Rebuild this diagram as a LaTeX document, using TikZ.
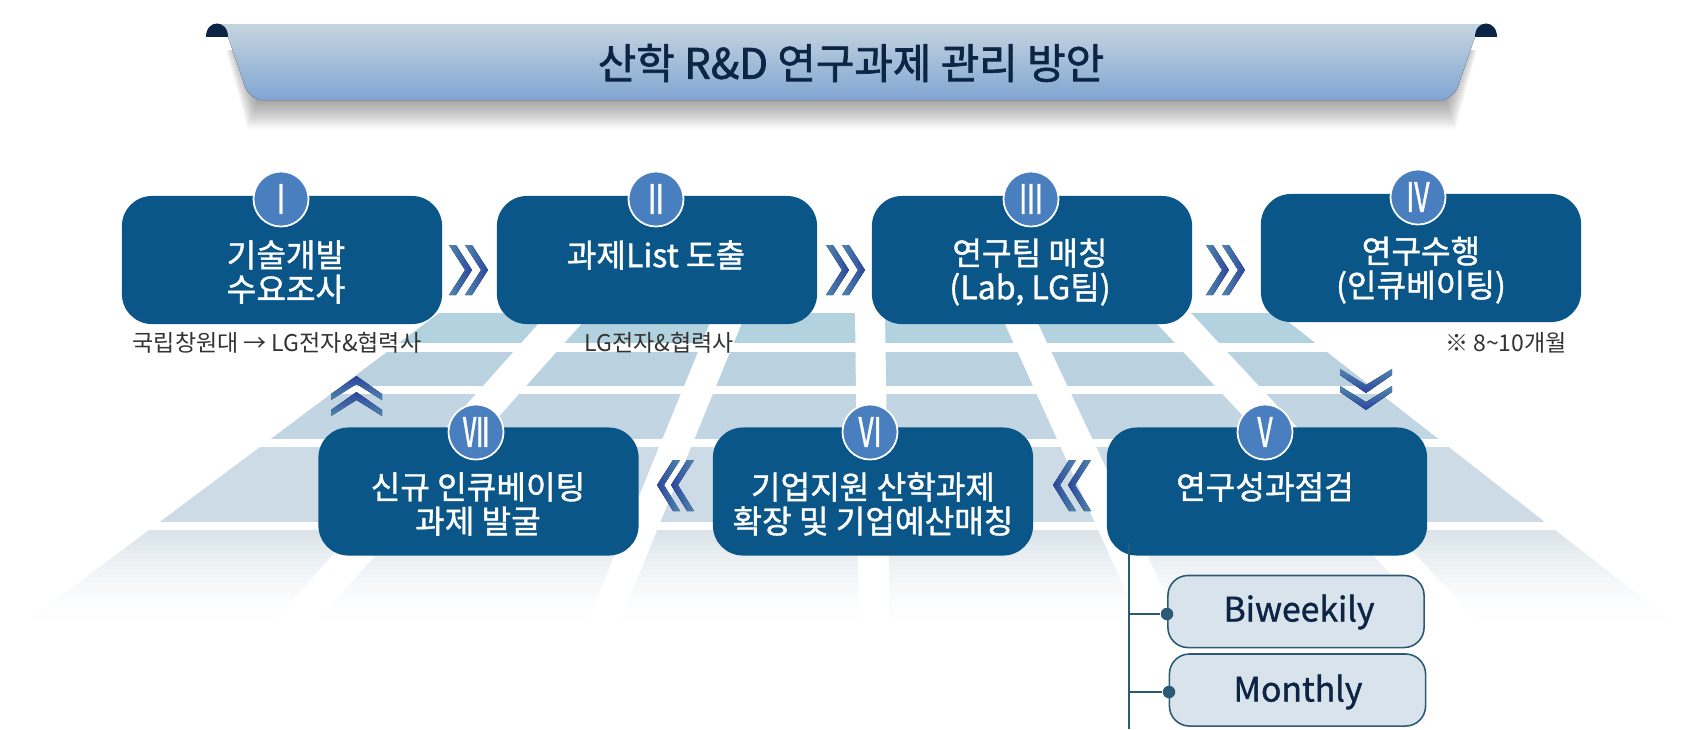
\documentclass[tikz,border=0pt]{standalone}
\usepackage{graphicx}
\usepackage{fontspec}
\setmainfont{Noto Sans CJK KR}
\newfontfamily\krmid[FakeBold=1.2]{Noto Sans CJK KR}
\newfontfamily\krtitle[FakeBold=1.6]{Noto Sans CJK KR}
\usepackage{xcolor}
\definecolor{boxblue}{HTML}{0B5688}
\definecolor{badgeblue}{HTML}{4A7FBF}
\definecolor{navy}{HTML}{0C2545}
\definecolor{subfill}{HTML}{D9E3EC}
\definecolor{subline}{HTML}{2A5A75}
\definecolor{chevtip}{HTML}{2B45A0}
\definecolor{chevmid}{HTML}{1A5590}
\definecolor{chevend}{HTML}{4F86AE}
\definecolor{rowa}{HTML}{B3D2DF}
\definecolor{rowb}{HTML}{BAD2E0}
\definecolor{rowc}{HTML}{C1D5E3}
\definecolor{rowd}{HTML}{CCDBE5}
\definecolor{rowe}{HTML}{DAE3E9}
\newcommand{\romnum}[1]{\scalebox{0.65}[1]{#1}}
\tikzset{
  taskbox/.style={fill=boxblue,rounded corners=0.3cm,minimum width=3.2cm,minimum height=1.28cm,inner sep=0pt},
  tasktext/.style={text=white,align=center,font=\krmid\fontsize{9.15}{9.7}\selectfont,inner sep=0pt},
  badge/.style={circle,fill=badgeblue,draw=white,line width=0.5pt,minimum size=0.55cm,inner sep=0pt,text=white,font=\krmid\fontsize{11.6}{12}\selectfont},
  capt/.style={text=black!80,font=\fontsize{6.55}{7}\selectfont,inner sep=0pt},
  subbox/.style={fill=subfill,draw=subline,line width=0.45pt,rounded corners=0.2cm,minimum width=2.56cm,minimum height=0.72cm,inner sep=0pt},
  subtext/.style={text=navy,font=\krmid\fontsize{9.6}{10}\selectfont,inner sep=0pt},
  dot/.style={circle,fill=subline,minimum size=0.125cm,inner sep=0pt},
  chevr/.style={left color=chevend,middle color=chevmid,right color=chevtip},
  chevl/.style={left color=chevtip,middle color=chevmid,right color=chevend},
  chevu/.style={top color=chevtip,middle color=chevmid,bottom color=chevend},
  chevd/.style={top color=chevend,middle color=chevmid,bottom color=chevtip},
}
\begin{document}
\begin{tikzpicture}[x=0.01cm,y=-0.01cm]
\useasboundingbox (0,0) rectangle (1703,729);

% floor
\begin{scope}
\clip (439,313) -- (1277,313) -- (1696,640) -- (2,640) -- cycle;
\foreach \ya/\yb/\rowc in {313/343/rowa,352/386/rowb,394/439/rowc,447/522/rowd}
  \fill[\rowc] (0,\ya) rectangle (1703,\yb);
\foreach \i [evaluate=\i as \pct using {100*(1-\i/26)*(1-\i/26)}] in {0,...,25}
  \fill[rowe!\pct!white] (0,530+\i*4) rectangle (1703,534.5+\i*4);
\foreach \ta/\tb/\ba/\bb in {548/591/257/300,714/746/580/612,855/885/859/890,1000/1033/1148/1187,1147/1191/1452/1495}
  \fill[white] (\ta,313) -- (\tb,313) -- (\bb,640) -- (\ba,640) -- cycle;
\end{scope}

% banner
\foreach \i in {1,...,15}
  \fill[black,opacity=0.026] (238-0.8*\i,50) -- (258-0.7*\i,100+1.9*\i) -- (1445+0.7*\i,100+1.9*\i) -- (1465+0.8*\i,50) -- cycle;
\fill[top color=rowe!90!boxblue,bottom color=badgeblue!70!white] (222,24) -- (1481,24) -- (1475,37)
  -- (1460,80) .. controls (1458,88) and (1455,96) .. (1443,100) -- (260,100) .. controls (248,96) and (245,88) .. (243,80) -- (228,37) -- cycle;
\fill[navy] (206,37) .. controls (206,19) and (228,19) .. (228,37) -- cycle;
\fill[navy] (1475,37) .. controls (1475,19) and (1497,19) .. (1497,37) -- cycle;
\node[text=navy,font=\krtitle\fontsize{11.9}{12}\selectfont,inner sep=0pt] (title) at (851,63) {산학 R\&D 연구과제 관리 방안};

% steps
\node[taskbox] (box1) at (282,260) {};
\node[taskbox] (box2) at (657,260) {};
\node[taskbox] (box3) at (1032,260) {};
\node[taskbox] (box4) at (1421,258) {};
\node[taskbox] (box5) at (1267,491.5) {};
\node[taskbox] (box6) at (873,491.5) {};
\node[taskbox] (box7) at (478.5,491.5) {};

\node[badge] (num1) at (281,199) {\romnum{Ⅰ}};
\node[badge] (num2) at (656,199) {\romnum{Ⅱ}};
\node[badge] (num3) at (1031,199) {\romnum{Ⅲ}};
\node[badge] (num4) at (1418,197) {\romnum{Ⅳ}};
\node[badge] (num5) at (1265,432) {\romnum{Ⅴ}};
\node[badge] (num6) at (870,432) {\romnum{Ⅵ}};
\node[badge] (num7) at (476,432) {\romnum{Ⅶ}};

\node[tasktext] (text1) at (286,272) {기술개발\\수요조사};
\node[tasktext] (text2) at (656,255) {과제List 도출};
\node[tasktext] (text3) at (1030,272) {연구팀 매칭\\(Lab, LG팀)};
\node[tasktext] (text4) at (1421,270) {연구수행\\(인큐베이팅)};
\node[tasktext] (text5) at (1265,487) {연구성과점검};
\node[tasktext] (text6) at (873,504) {기업지원 산학과제\\확장 및 기업예산매칭};
\node[tasktext] (text7) at (478,504) {신규 인큐베이팅\\과제 발굴};

\node[capt] (cap1) at (277,343) {국립창원대 → LG전자\&협력사};
\node[capt] (cap2) at (659,343) {LG전자\&협력사};
\node[capt] (cap4) at (1506,343) {※ 8\textasciitilde10개월};

% chevrons
\foreach \x in {449,465,826,842,1206,1222}
  \fill[chevr] (\x,245) -- (\x+7,245) -- (\x+23,270) -- (\x+7,295) -- (\x,295) -- (\x+16,270) -- cycle;
\foreach \x in {657,671,1053,1068}
  \fill[chevl] (\x+23,460) -- (\x+16,460) -- (\x,485) -- (\x+16,511) -- (\x+23,511) -- (\x+7,485) -- cycle;
\foreach \y in {376,392}
  \fill[chevu] (356.5,\y) -- (382,\y+18) -- (382,\y+24) -- (356.5,\y+8) -- (331,\y+24) -- (331,\y+18) -- cycle;
\foreach \y in {369,386}
  \fill[chevd] (1340,\y) -- (1340,\y+6) -- (1366,\y+24) -- (1392,\y+6) -- (1392,\y) -- (1366,\y+16) -- cycle;

% checks
\node[subbox] (biweek) at (1296,611.5) {};
\node[subbox] (month) at (1297.5,690) {};
\node[subtext] (biweektext) at (1299,612) {Biweekily};
\node[subtext] (monthtext) at (1298,692) {Monthly};
\node[dot] (dotbi) at (1167,614) {};
\node[dot] (dotmo) at (1169,692) {};
\coordinate (trunktop) at (1129,543);
\coordinate (trunkend) at (1129,729);
\draw[subline,line width=0.4pt] (trunktop) -- (trunkend);
\draw[subline,line width=0.4pt] (trunktop |- dotbi) -- (dotbi);
\draw[subline,line width=0.4pt] (trunktop |- dotmo) -- (dotmo);

\end{tikzpicture}
\end{document}
